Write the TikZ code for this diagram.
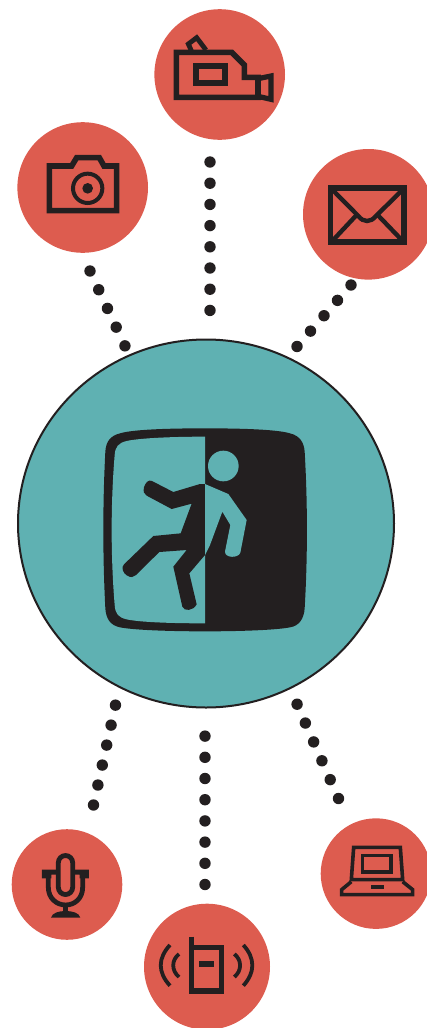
\documentclass[tikz,border=0pt]{standalone}
\usepackage{xcolor}
\usepackage{tikz}
\usetikzlibrary{shapes.geometric}
\definecolor{badgeRed}{HTML}{DD5C4F}
\definecolor{hubTeal}{HTML}{5FB1B2}
\definecolor{inkDark}{HTML}{231F20}

\begin{document}
\begin{tikzpicture}[
      x=1pt, y=-1pt,
      badge/.style={circle, fill=badgeRed, inner sep=0pt, minimum size=#1},
      hub/.style={ellipse, draw=inkDark, fill=hubTeal, line width=2pt,
                  inner sep=0pt, minimum width=376pt, minimum height=368pt},
      dotline/.style={draw=inkDark, line width=11.4pt, line cap=round,
                  dash pattern=on 0pt off #1},
      icon/.style={draw=inkDark, line width=#1, miter limit=10},
      zoomed/.style={shift={#1}, scale=1/3},
    ]
    \useasboundingbox (0,0) rectangle (427,1028);

    \node[hub] (center) at (206,523.5) {};
    \node[badge=130.6pt] (camera) at (82.7,187.5) {};
    \node[badge=130.6pt] (video) at (219.7,74.5) {};
    \node[badge=130.6pt] (mail) at (368.3,214.3) {};
    \node[badge=110.6pt] (mic) at (67,884.5) {};
    \node[badge=126pt] (phone) at (207,966.7) {};
    \node[badge=110.6pt] (laptop) at (376,873.6) {};

    % dotted links
    \coordinate (cameraA) at (90,271);
    \coordinate (cameraB) at (125,346);
    \coordinate (videoA) at (210,162);
    \coordinate (videoB) at (210,310.5);
    \coordinate (mailA) at (351,285);
    \coordinate (mailB) at (297,346.5);
    \coordinate (micA) at (93.5,805);
    \coordinate (micB) at (115.5,705);
    \coordinate (phoneA) at (205,884.5);
    \coordinate (phoneB) at (205,736);
    \coordinate (laptopA) at (338.5,798.5);
    \coordinate (laptopB) at (297,704);
    \draw[dotline=20.65pt] (cameraA) -- (cameraB);
    \draw[dotline=21.2pt] (videoA) -- (videoB);
    \draw[dotline=20.45pt] (mailA) -- (mailB);
    \draw[dotline=20.45pt] (micA) -- (micB);
    \draw[dotline=21.2pt] (phoneA) -- (phoneB);
    \draw[dotline=20.6pt] (laptopA) -- (laptopB);

    % door sign
    \begin{scope}[zoomed={(90,410)}]
      \fill[inkDark] (345,55) .. controls (450,55) and (560,58) .. (600,70)
        .. controls (632,78) and (642,100) .. (644,125)
        .. controls (653,280) and (653,440) .. (644,595)
        .. controls (642,625) and (628,648) .. (600,652)
        .. controls (520,668) and (170,668) .. (90,652)
        .. controls (60,646) and (48,625) .. (46,595)
        .. controls (38,440) and (38,280) .. (46,125)
        .. controls (48,95) and (60,78) .. (90,70)
        .. controls (130,58) and (240,55) .. (345,55) -- cycle;
      \fill[hubTeal] (345,80) .. controls (250,80) and (150,84) .. (110,93)
        .. controls (85,99) and (76,110) .. (74,135)
        .. controls (62,280) and (62,440) .. (74,585)
        .. controls (76,612) and (85,622) .. (110,628)
        .. controls (150,637) and (250,640) .. (345,640) -- cycle;
      \fill[inkDark] (345,222) -- (330,222) -- (250,246) -- (186,213)
        .. controls (175,207) and (165,220) .. (162,232)
        .. controls (159,245) and (162,252) .. (170,257)
        -- (245,297) -- (305,281) -- (272,370) -- (190,378) -- (102,463)
        .. controls (92,472) and (100,490) .. (110,496)
        .. controls (122,504) and (132,502) .. (138,495)
        -- (208,426) -- (290,420) -- (250,470) -- (277,590)
        .. controls (282,605) and (310,603) .. (320,583)
        -- (298,490) -- (345,435) -- cycle;
      \fill[hubTeal] (345,222) -- (415,252) -- (470,330) -- (451,428)
        .. controls (445,445) and (405,445) .. (405,425)
        -- (421,345) -- (397,305) -- (360,405) -- (345,435) -- cycle;
      \fill[hubTeal] (400,168) circle[radius=46];
    \end{scope}

    % camera
    \begin{scope}[zoomed={(0,0)}]
      \draw[icon=5.6pt] (148,498) -- (215,498) -- (230,473) -- (298,473)
        -- (312,498) -- (350,498) -- (350,632) -- (148,632) -- cycle;
      \draw[icon=4pt] (263,565) circle[radius=44];
      \fill[inkDark] (263,565) circle[radius=16];
    \end{scope}

    % video camera
    \begin{scope}[zoomed={(0,0)}]
      \draw[icon=5.6pt] (529,157) -- (695,157) -- (733,195) -- (733,232)
        -- (774,232) -- (774,292) -- (529,292) -- cycle;
      \draw[icon=5.2pt] (774,236) -- (813,228) -- (813,298) -- (774,289) -- cycle;
      \draw[icon=6pt] (589,199) rectangle (676,249);
      \draw[icon=4.8pt] (574,152) -- (565,132) -- (590,113) -- (618,150);
    \end{scope}

    % envelope
    \begin{scope}[zoomed={(0,0)}]
      \draw[icon=5.4pt] (992,564) rectangle (1212,726);
      \draw[icon=4.4pt] (995,567) -- (1075,648)
        .. controls (1090,668) and (1112,668) .. (1128,648) -- (1210,567);
      \draw[icon=4.4pt] (995,725) -- (1067,648);
      \draw[icon=4.4pt] (1210,725) -- (1136,648);
    \end{scope}

    % microphone
    \begin{scope}[zoomed={(0,810)}]
      \draw[icon=4.8pt] (175,158) arc[start angle=180, end angle=360, radius=21.5]
        -- (218,232) arc[start angle=0, end angle=180, radius=21.5] -- cycle;
      \draw[icon=4.8pt] (145,190) -- (145,232)
        .. controls (145,265) and (170,285) .. (197,285)
        .. controls (224,285) and (248,265) .. (248,232) -- (248,190);
      \fill[inkDark] (126,179) -- (172,179) -- (172,194) -- (154,194) -- (154,205)
        -- (126,205) -- cycle;
      \fill[inkDark] (267,179) -- (221,179) -- (221,194) -- (239,194) -- (239,205)
        -- (267,205) -- cycle;
      \draw[icon=4.4pt] (197,285) -- (197,310);
      \fill[inkDark] (153,323) .. controls (156,308) and (178,303) .. (197,303)
        .. controls (216,303) and (238,308) .. (241,323) -- cycle;
    \end{scope}

    % phone
    \begin{scope}[zoomed={(0,810)}]
      \draw[icon=5.4pt] (575,380) -- (575,543) -- (664,543) -- (664,413) -- (575,413);
      \fill[inkDark] (597,453) rectangle (643,470);
      \draw[icon=3.8pt] (510,405) .. controls (473,445) and (473,487) .. (510,527);
      \draw[icon=3.8pt] (537,432) .. controls (514,450) and (514,482) .. (537,501);
      \draw[icon=3.8pt] (730,405) .. controls (766,445) and (766,487) .. (730,527);
      \draw[icon=3.8pt] (703,432) .. controls (726,450) and (726,482) .. (703,501);
    \end{scope}

    % laptop
    \begin{scope}[zoomed={(0,810)}]
      \draw[icon=3.6pt] (1061,112) -- (1201,112) -- (1208,209) -- (1054,209) -- cycle;
      \draw[icon=3.2pt] (1087,136) rectangle (1173,186);
      \draw[icon=3.6pt] (1054,215) -- (1025,239) -- (1025,254) -- (1238,254)
        -- (1238,239) -- (1208,215);
      \fill[inkDark] (1112,226) rectangle (1151,236);
    \end{scope}
  \end{tikzpicture}
\end{document}
